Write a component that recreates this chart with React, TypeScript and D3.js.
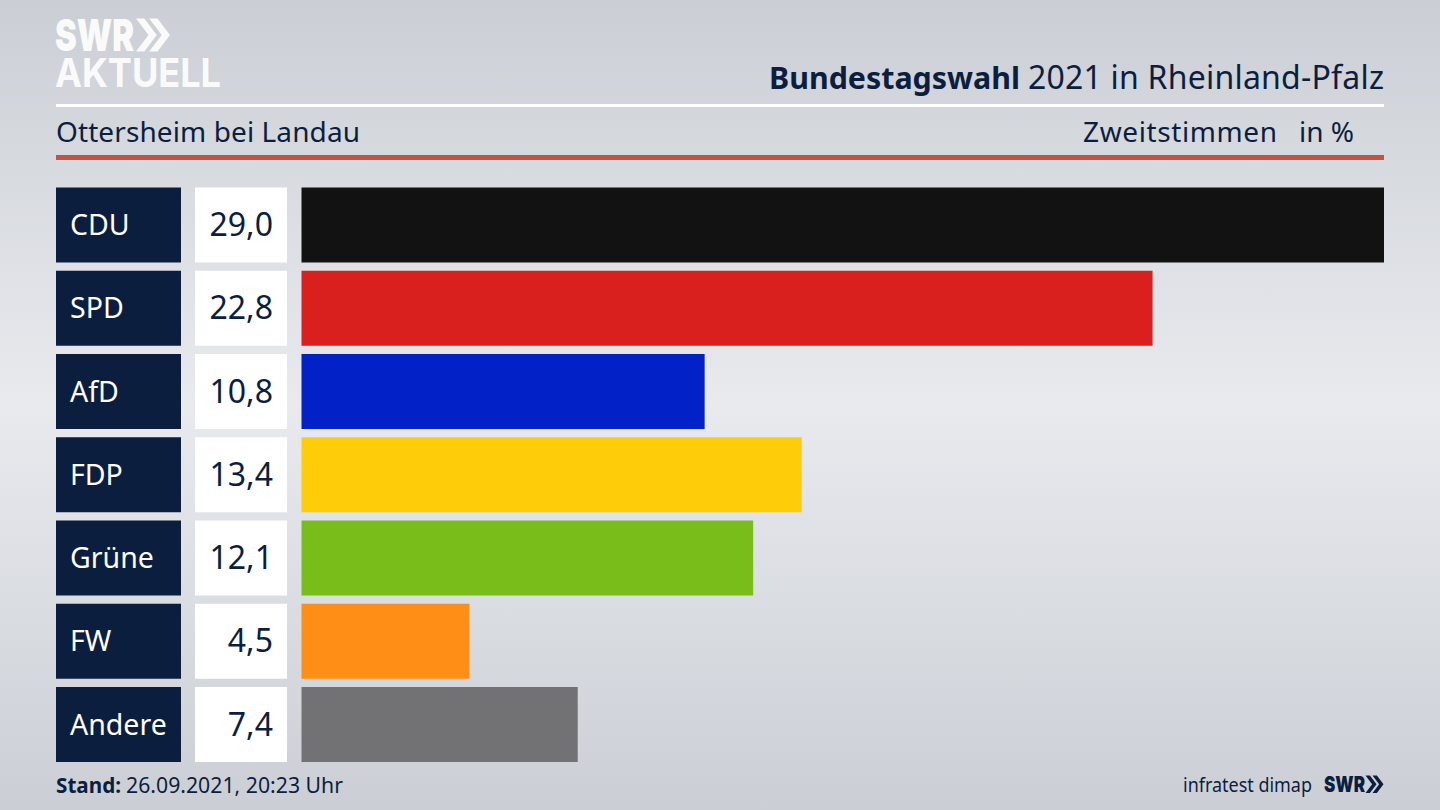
import React from "react";
import * as d3 from "d3";

const parties = ["CDU", "SPD", "AfD", "FDP", "Grüne", "FW", "Andere"];
const values = [29.0, 22.8, 10.8, 13.4, 12.1, 4.5, 7.4];
const colors = ["#121212", "#da201f", "#0221c6", "#ffcc0a", "#79bd1b", "#ff8e16", "#727274"];
const titleBold = "Bundestagswahl";
const titleRest = "2021 in Rheinland-Pfalz";
const place = "Ottersheim bei Landau";
const voteType = "Zweitstimmen";
const unit = "in %";
const standLabel = "Stand:";
const standValue = "26.09.2021, 20:23 Uhr";
const source = "infratest dimap";

const NAVY = "#0c1e3e";
const FONT = "'Noto Sans', sans-serif";

const fmt = (v: number) => v.toFixed(1).replace(".", ",");

function Chevrons({ x, y, h, fill }: { x: number; y: number; h: number; fill: string }) {
  const w = h * 0.38;
  const t = h * 0.25;
  const gap = h * 0.4;
  const d = (x0: number) =>
    `M${x0},${y} L${x0 + t},${y} L${x0 + t + w},${y + h / 2} L${x0 + t},${y + h} L${x0},${y + h} L${x0 + w},${y + h / 2} Z`;
  return (
    <g fill={fill}>
      <path d={d(x)} />
      <path d={d(x + gap)} />
    </g>
  );
}

export default function App() {
  const x = d3.scaleLinear().domain([0, 29]).range([301.5, 1384]);
  const y = d3.scaleBand<string>().domain(parties).range([187.5, 762]).paddingInner(8.25 / 83.25).paddingOuter(0);
  const rowH = y.bandwidth();
  return (
    <svg
      width={1440}
      height={810}
      viewBox="0 0 1440 810"
      style={{ position: "absolute", left: 0, top: 0, display: "block" }}
      fontFamily={FONT}
    >
      <defs>
        <linearGradient id="bg" x1="0" y1="0" x2="0" y2="1">
          <stop offset="0" stopColor="#cbcfd5" />
          <stop offset="0.5" stopColor="#e8eaee" />
          <stop offset="1" stopColor="#cbcfd5" />
        </linearGradient>
      </defs>
      <rect width={1440} height={810} fill="url(#bg)" />

      <g fill="#fafafb" fontFamily="Inter, sans-serif">
        <text x={55} y={51} fontSize={44} fontWeight={900} textLength={79} lengthAdjust="spacingAndGlyphs">SWR</text>
        <text x={55} y={87} fontSize={40} fontWeight={700} textLength={166} lengthAdjust="spacingAndGlyphs">AKTUELL</text>
      </g>
      <Chevrons x={136} y={18.5} h={33} fill="#fafafb" />

      <text x={769} y={89} fontSize={31} fontWeight={700} fill={NAVY} textLength={251} lengthAdjust="spacingAndGlyphs">{titleBold}</text>
      <text x={1028} y={89} fontSize={32} fill={NAVY} textLength={356} lengthAdjust="spacing">{titleRest}</text>
      <rect x={56} y={104} width={1328} height={3} fill="#ffffff" />
      <text x={56} y={142} fontSize={28} fill={NAVY} textLength={304} lengthAdjust="spacing">{place}</text>
      <text x={1083} y={142} fontSize={28} fill={NAVY} textLength={194} lengthAdjust="spacing">{voteType}</text>
      <text x={1354} y={142} fontSize={28} textAnchor="end" fill={NAVY}>{unit}</text>
      <rect x={56} y={155} width={1328} height={5} fill="#c9523f" />

      {parties.map((p, i) => {
        const top = y(p)!;
        return (
          <g key={p}>
            <rect x={56} y={top} width={125} height={rowH} fill={NAVY} />
            <text x={70} y={top + 47.5} fontSize={28.5} fill="#ffffff">{p}</text>
            <rect x={195} y={top} width={92} height={rowH} fill="#ffffff" />
            <text x={273} y={top + 48.5} fontSize={32} textAnchor="end" fill={NAVY}>{fmt(values[i])}</text>
            <rect x={x(0)} y={top} width={x(values[i]) - x(0)} height={rowH} fill={colors[i]} />
          </g>
        );
      })}

      <text x={56} y={793} fontSize={22} fontWeight={700} fill={NAVY} textLength={65} lengthAdjust="spacingAndGlyphs">{standLabel}</text>
      <text x={126} y={793} fontSize={22} fill={NAVY} textLength={217} lengthAdjust="spacingAndGlyphs">{standValue}</text>
      <text x={1183} y={792} fontSize={20} fill={NAVY} textLength={129} lengthAdjust="spacingAndGlyphs">{source}</text>
      <text x={1324} y={792} fontSize={22} fontFamily="Inter, sans-serif" fontWeight={900} fill={NAVY} textLength={41} lengthAdjust="spacingAndGlyphs">SWR</text>
      <Chevrons x={1365.5} y={775.5} h={17.5} fill={NAVY} />
    </svg>
  );
}
